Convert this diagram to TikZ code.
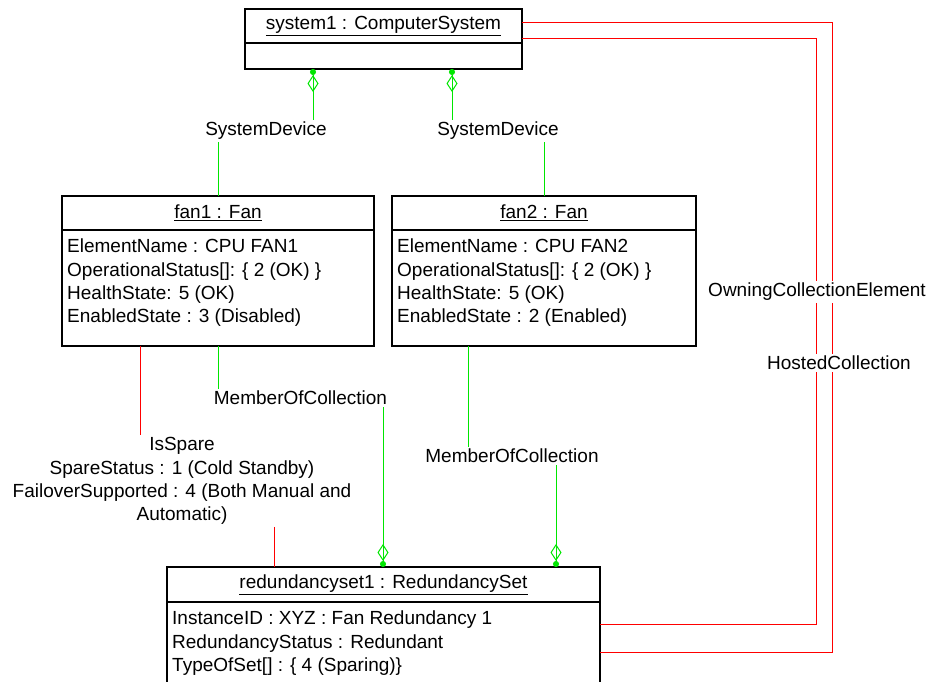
\documentclass[tikz,border=0pt]{standalone}
\usepackage{fontspec}
\setmainfont{Liberation Sans}
\usetikzlibrary{positioning, arrows.meta}

\definecolor{umlgreen}{RGB}{0,230,0}
\definecolor{umlred}{RGB}{255,0,0}

\tikzset{
  title/.style={draw,line width=1.2pt,minimum height=34pt,inner sep=0pt,outer sep=0pt},
  attrbox/.style={draw,line width=1.2pt,inner sep=0pt,outer sep=0pt},
  attrtext/.style={anchor=north west,align=left,inner xsep=5pt,inner ysep=9pt},
  lbl/.style={inner sep=2pt},
  assoc/.style={draw=umlgreen,line width=1pt},
  agg/.style={assoc,-{Diamond[open,length=17pt,width=11pt,sep=0pt]Circle[length=6pt,sep=0pt]}},
  redline/.style={draw=umlred,line width=1.1pt},
}

\begin{document}
\begin{tikzpicture}[x=1pt,y=-1pt,font=\fontsize{19}{23.3}\selectfont]
	\useasboundingbox (0,0) rectangle (932,681);

	% classes
	\node (sys) at (383.5,26) [title,minimum width=277pt] {\underline{system1 : ComputerSystem}};
	\node (sysattr) [attrbox,below=0pt of sys,minimum width=277pt,minimum height=26pt] {};

	\node (fan1) at (218,213) [title,minimum width=312pt] {\underline{fan1 : Fan}};
	\node (fan1attr) [attrbox,below=0pt of fan1,minimum width=312pt,minimum height=116pt] {};
	\node (fan1text) at (fan1attr.north west) [attrtext] {ElementName : CPU FAN1\\OperationalStatus[]: \{ 2 (OK) \}\\HealthState: 5 (OK)\\EnabledState : 3 (Disabled)};

	\node (fan2) at (544,213) [title,minimum width=304pt] {\underline{fan2 : Fan}};
	\node (fan2attr) [attrbox,below=0pt of fan2,minimum width=304pt,minimum height=116pt] {};
	\node (fan2text) at (fan2attr.north west) [attrtext] {ElementName : CPU FAN2\\OperationalStatus[]: \{ 2 (OK) \}\\HealthState: 5 (OK)\\EnabledState : 2 (Enabled)};

	\node (rs) at (383.5,584.5) [title,minimum width=433pt,minimum height=35pt] {\underline{redundancyset1 : RedundancySet}};
	\node (rsattr) [attrbox,below=0pt of rs,minimum width=433pt,minimum height=82pt] {};
	\node (rstext) at (rsattr.north west) [attrtext] {InstanceID : XYZ : Fan Redundancy 1\\RedundancyStatus : Redundant\\TypeOfSet[] : \{ 4 (Sparing)\}};

	% association labels
	\node (sd1) at (266,131) [lbl] {SystemDevice};
	\node (sd2) at (498,131) [lbl] {SystemDevice};
	\node (moc1) at (300.5,398) [lbl] {MemberOfCollection};
	\node (moc2) at (512,456) [lbl] {MemberOfCollection};
	\node (isspare) at (182,481) [lbl,align=center] {IsSpare\\SpareStatus : 1 (Cold Standby)\\FailoverSupported : 4 (Both Manual and\\Automatic)};

	\coordinate (xsd1) at (313,0);
	\coordinate (xsd2) at (452,0);
	\coordinate (xmoc1) at (383,0);
	\coordinate (xmoc2a) at (468,0);
	\coordinate (xmoc2b) at (556,0);
	\coordinate (xspare1) at (140.5,0);
	\coordinate (xspare2) at (274.5,0);
	\coordinate (own1) at (832.5,22.5);
	\coordinate (own2) at (832.5,652.5);
	\coordinate (host1) at (816.5,38.5);
	\coordinate (host2) at (816.5,624.5);

	\draw[agg] (sd1.north -| xsd1) -- (sysattr.south -| xsd1);
	\draw[assoc] (sd1.south -| fan1.north) -- (fan1.north);
	\draw[agg] (sd2.north -| xsd2) -- (sysattr.south -| xsd2);
	\draw[assoc] (sd2.south -| fan2.north) -- (fan2.north);

	\draw[assoc] (fan1attr.south) -- (moc1.north -| fan1attr.south);
	\draw[agg] (moc1.south -| xmoc1) -- (rs.north -| xmoc1);
	\draw[assoc] (fan2attr.south -| xmoc2a) -- (moc2.north -| xmoc2a);
	\draw[agg] (moc2.south -| xmoc2b) -- (rs.north -| xmoc2b);

	\draw[redline] (fan1attr.south -| xspare1) -- (isspare.north -| xspare1);
	\draw[redline] (isspare.south -| xspare2) -- (rs.north -| xspare2);

	\draw[redline] (sys.east |- own1) -- (own1) -- (own2) -- (rsattr.east |- own2);
	\draw[redline] (sys.east |- host1) -- (host1) -- (host2) -- (rsattr.east |- host2);

	\node (owning) at (817,292) [lbl,fill=white] {OwningCollectionElement};
	\node (hosted) at (839,363) [lbl,fill=white] {HostedCollection};
\end{tikzpicture}
\end{document}
